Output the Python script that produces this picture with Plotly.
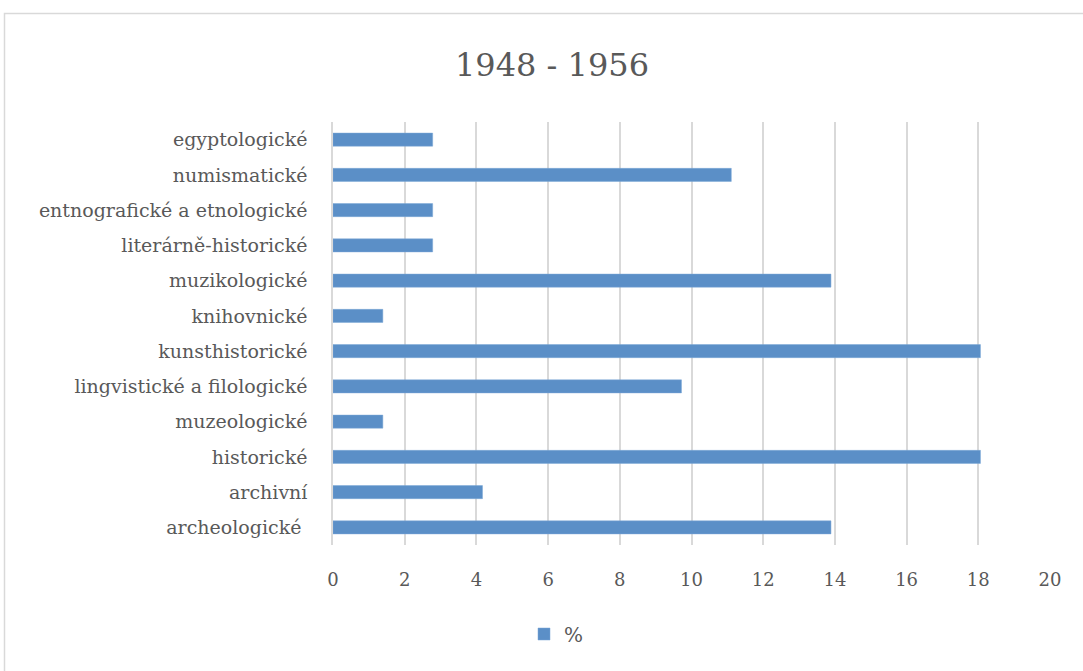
import plotly.graph_objects as go

categories = [
    "archeologické\u00a0",
    "archivní",
    "historické",
    "muzeologické",
    "lingvistické a filologické",
    "kunsthistorické",
    "knihovnické",
    "muzikologické",
    "literárně-historické",
    "entnografické a etnologické",
    "numismatické",
    "egyptologické",
]
values = [13.89, 4.17, 18.06, 1.39, 9.72, 18.06, 1.39, 13.89, 2.78, 2.78, 11.11, 2.78]
series_name = "%"
title_text = "1948 - 1956"
x_ticks = [0, 2, 4, 6, 8, 10, 12, 14, 16, 18, 20]

W, H = 1083, 671
# target plot geometry in screenshot pixels
TL, TR, TT, TB = 333, 1050, 122, 545
L, T, R, B = TL, TT, W - TR, H - TB

def px_to_paper_x(px):
    return (px - TL) / (TR - TL)

def px_to_paper_y(py):
    return (TB - py) / (TB - TT)

FONT = "DejaVu Serif"
TXT = "#595959"

fig = go.Figure()
fig.add_trace(go.Bar(
    x=values, y=categories, orientation="h", name=series_name,
    marker=dict(color="#5b8fc7", line=dict(color="#7aa7d6", width=0.5)),
    showlegend=True,
))

fig.update_layout(
    width=W, height=H,
    margin=dict(l=L, r=R, t=T, b=B, pad=0),
    paper_bgcolor="white", plot_bgcolor="white",
    title=dict(text=title_text, x=552 / W, xref="container", xanchor="center",
               y=1 - 65 / H, yref="container", yanchor="middle",
               font=dict(family=FONT, size=32, color=TXT)),
    bargap=0.63,
    font=dict(family=FONT, size=18, color=TXT),
    xaxis=dict(range=[0, 20], tickvals=x_ticks, showgrid=True, gridcolor="#d9d9d9",
               gridwidth=1.5, zeroline=False, showline=False, ticks="",
               ticklabelstandoff=22,
               tickfont=dict(family=FONT, size=18, color=TXT)),
    yaxis=dict(categoryorder="array", categoryarray=categories, showgrid=False,
               zeroline=False, showline=True, linecolor="#d9d9d9", linewidth=1.5,
               ticks="", ticklabelstandoff=20,
               tickfont=dict(family=FONT, size=19, color=TXT)),
    legend=dict(orientation="h", x=524 / W, xanchor="left",
                y=1 - 634 / H, yanchor="middle",
                xref="container", yref="container",
                font=dict(family=FONT, size=20, color=TXT), itemwidth=30),
    shapes=[dict(type="rect", xref="paper", yref="paper",
                 x0=px_to_paper_x(4.5), x1=px_to_paper_x(1100),
                 y0=px_to_paper_y(13.5), y1=px_to_paper_y(700),
                 line=dict(color="#d9d9d9", width=1.5), layer="below")],
)

fig.write_html("out.html", config={"displayModeBar": False},
               post_script="document.body.style.margin='0';")
